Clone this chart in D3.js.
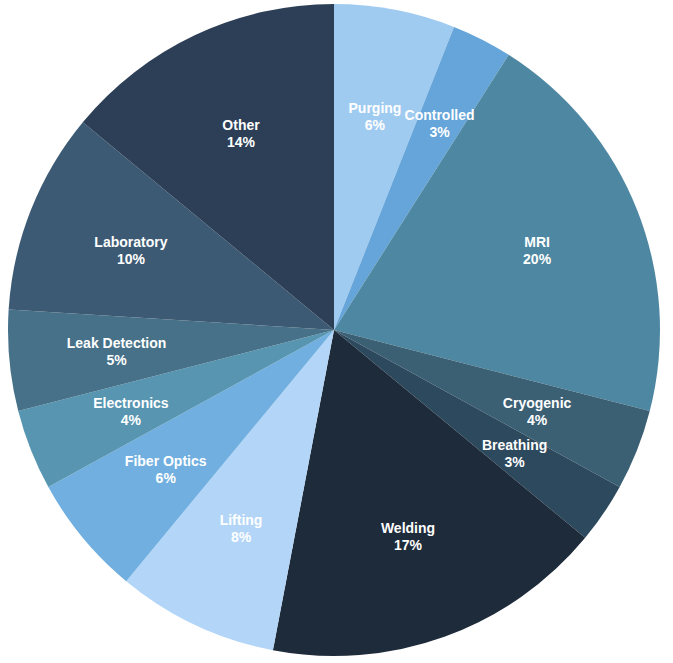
<!DOCTYPE html>
<html>
<head>
<meta charset="utf-8">
<script src="https://cdn.jsdelivr.net/npm/d3@7"></script>
<style>
  html, body { margin: 0; padding: 0; background: #fff; }
  svg { display: block; }
  .slice-label { fill: #fff; font-family: "Liberation Sans", Arial, Helvetica, sans-serif; font-size: 14px; font-weight: 600; }
</style>
</head>
<body>
<svg class="pie" width="673" height="663"></svg>
<script>
document.addEventListener('DOMContentLoaded', function () {
  "use strict";

  var categories = ["Purging", "Controlled", "MRI", "Cryogenic", "Breathing", "Welding",
                    "Lifting", "Fiber Optics", "Electronics", "Leak Detection", "Laboratory", "Other"];
  var shares = [6, 3, 20, 4, 3, 17, 8, 6, 4, 5, 10, 14];
  var colours = ["#a0cbf1", "#65a5d9", "#4e87a1", "#3b6074", "#2d495d", "#1e2b3a",
                 "#b3d6f8", "#70afdf", "#5795b1", "#467188", "#3c5a73", "#2c3f56"];

  var cx = 334, cy = 330, radius = 326;

  var svg = d3.select("svg.pie");
  var g = svg.append("g").attr("transform", "translate(" + cx + "," + cy + ")");

  var data = categories.map(function (name, i) {
    return { name: name, value: shares[i] };
  });

  var colour = d3.scaleOrdinal().domain(categories).range(colours);

  var pie = d3.pie().value(function (d) { return d.value; }).sort(null);
  var arcs = pie(data);

  var arc = d3.arc().innerRadius(0).outerRadius(radius);

  g.selectAll("path")
      .data(arcs)
    .enter().append("path")
      .attr("d", arc)
      .attr("fill", function (d) { return colour(d.data.name); });

  var total = d3.sum(shares);
  var labels = g.selectAll("text")
      .data(arcs)
    .enter().append("text")
      .attr("class", "slice-label")
      .attr("text-anchor", "middle");

  labels.append("tspan")
      .attr("x", 0)
      .attr("dy", "-0.2em")
      .text(function (d) { return d.data.name; });

  labels.append("tspan")
      .attr("x", 0)
      .attr("dy", "1.22em")
      .text(function (d) { return Math.round(d.data.value / total * 100) + "%"; });

  // place labels at ~2/3 of the radius, push outward if they bump into an earlier one
  var placed = [];
  var pad = 3;
  labels.each(function (d) {
    var node = this;
    var r = radius * 0.67;
    var box = node.getBBox();
    var mid = (d.startAngle + d.endAngle) / 2;
    var x, y, rect;

    function overlaps(a, b) {
      return a.x0 < b.x1 + pad && a.x1 + pad > b.x0 && a.y0 < b.y1 + pad && a.y1 + pad > b.y0;
    }

    while (true) {
      x = Math.sin(mid) * r;
      y = -Math.cos(mid) * r;
      rect = { x0: x + box.x, x1: x + box.x + box.width, y0: y + box.y, y1: y + box.y + box.height };
      if (!placed.some(function (p) { return overlaps(rect, p); }) || r > radius * 0.85) break;
      r += 1;
    }
    placed.push(rect);
    d3.select(node).attr("transform", "translate(" + x + "," + y + ")");
  });
}, false);
</script>
</body>
</html>
